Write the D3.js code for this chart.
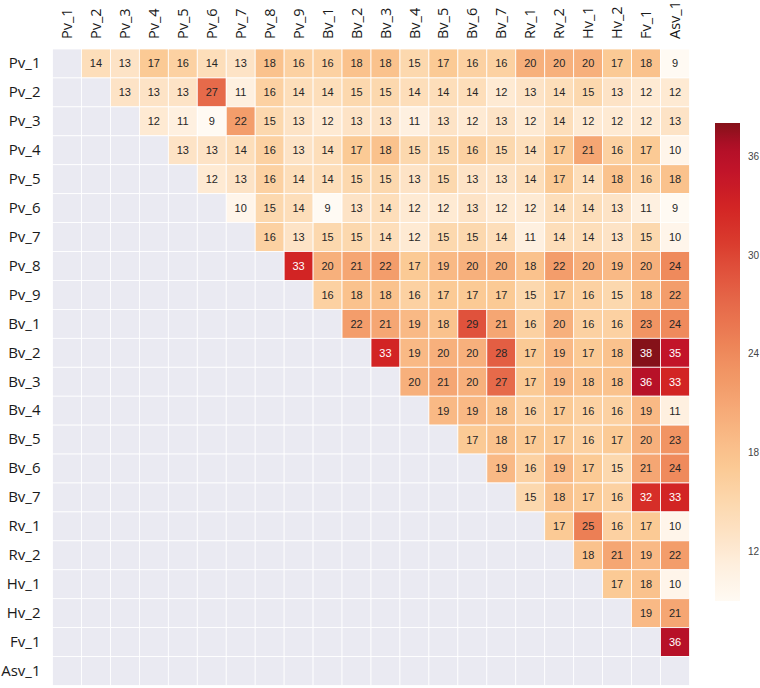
<!DOCTYPE html>
<html>
<head>
<meta charset="utf-8">
<script src="https://cdn.jsdelivr.net/npm/d3@7"></script>
<style>
  html, body { margin: 0; padding: 0; background: #fff; }
  svg { display: block; }
</style>
</head>
<body>
<svg id="chart" width="760" height="688"></svg>
<script>
// ---------------- DATA ----------------
const labels = ["Pv_1","Pv_2","Pv_3","Pv_4","Pv_5","Pv_6","Pv_7","Pv_8","Pv_9",
  "Bv_1","Bv_2","Bv_3","Bv_4","Bv_5","Bv_6","Bv_7","Rv_1","Rv_2","Hv_1","Hv_2","Fv_1","Asv_1"];

// Upper-triangle values of each row (columns to the right of the diagonal)
const row_Pv_1 = [14,13,17,16,14,13,18,16,16,18,18,15,17,16,16,20,20,20,17,18,9];
const row_Pv_2 = [13,13,13,27,11,16,14,14,15,15,14,14,14,12,13,14,15,13,12,12];
const row_Pv_3 = [12,11,9,22,15,13,12,13,13,11,13,12,13,12,14,12,12,12,13];
const row_Pv_4 = [13,13,14,16,13,14,17,18,15,15,16,15,14,17,21,16,17,10];
const row_Pv_5 = [12,13,16,14,14,15,15,13,15,13,13,14,17,14,18,16,18];
const row_Pv_6 = [10,15,14,9,13,14,12,12,13,12,12,14,14,13,11,9];
const row_Pv_7 = [16,13,15,15,14,12,15,15,14,11,14,14,13,15,10];
const row_Pv_8 = [33,20,21,22,17,19,20,20,18,22,20,19,20,24];
const row_Pv_9 = [16,18,18,16,17,17,17,15,17,16,15,18,22];
const row_Bv_1 = [22,21,19,18,29,21,16,20,16,16,23,24];
const row_Bv_2 = [33,19,20,20,28,17,19,17,18,38,35];
const row_Bv_3 = [20,21,20,27,17,19,18,18,36,33];
const row_Bv_4 = [19,19,18,16,17,16,16,19,11];
const row_Bv_5 = [17,18,17,17,16,17,20,23];
const row_Bv_6 = [19,16,19,17,15,21,24];
const row_Bv_7 = [15,18,17,16,32,33];
const row_Rv_1 = [17,25,16,17,10];
const row_Rv_2 = [18,21,19,22];
const row_Hv_1 = [17,18,10];
const row_Hv_2 = [19,21];
const row_Fv_1 = [36];
const row_Asv_1 = [];

const rowValues = [row_Pv_1,row_Pv_2,row_Pv_3,row_Pv_4,row_Pv_5,row_Pv_6,row_Pv_7,row_Pv_8,row_Pv_9,
  row_Bv_1,row_Bv_2,row_Bv_3,row_Bv_4,row_Bv_5,row_Bv_6,row_Bv_7,row_Rv_1,row_Rv_2,row_Hv_1,row_Hv_2,row_Fv_1,row_Asv_1];

const colorDomain = [9, 38];
const colorbarTicks = [12, 18, 24, 30, 36];

// ---------------- BUILD ----------------
const cells = [];
labels.forEach((rl, i) => {
  labels.forEach((cl, j) => {
    const v = j > i ? rowValues[i][j - i - 1] : null;
    cells.push({ row: rl, col: cl, value: v });
  });
});

const svg = d3.select("#chart");

const x = d3.scaleBand().domain(labels).range([52.5, 689.5]);
const y = d3.scaleBand().domain(labels).range([49, 685.5]);

const stopVals = [9, 11, 13, 15, 17, 19, 21, 23, 25, 27, 29, 31, 33, 35, 36.5, 38];
const stopCols = ["#fffaf3","#fef0e0","#fde3c6","#fcd8ae","#fbca95","#f9b985","#f5a673","#f19463",
  "#ec7f55","#e66a4a","#e0523c","#d9382c","#d22424","#c21429","#b20f28","#851119"];
const color = d3.scaleLinear().domain(stopVals).range(stopCols).interpolate(d3.interpolateRgb).clamp(true);

const whiteTextFrom = 30;

// cells
svg.append("g").selectAll("rect").data(cells).join("rect")
  .attr("x", d => x(d.col))
  .attr("y", d => y(d.row))
  .attr("width", x.bandwidth())
  .attr("height", y.bandwidth())
  .attr("fill", d => d.value == null ? "#eaeaf2" : color(d.value))
  .attr("stroke", "#ffffff")
  .attr("stroke-width", 0.8);

// annotations
svg.append("g").selectAll("text").data(cells.filter(d => d.value != null)).join("text")
  .attr("x", d => x(d.col) + x.bandwidth() / 2)
  .attr("y", d => y(d.row) + y.bandwidth() / 2)
  .attr("dy", "0.36em")
  .attr("text-anchor", "middle")
  .attr("font-family", "'Liberation Sans', Arial, sans-serif")
  .attr("font-size", "11px")
  .attr("fill", d => d.value >= whiteTextFrom ? "#ffffff" : "#262626")
  .text(d => d.value);

// row labels
const yAxis = d3.axisLeft(y).tickSize(0).tickPadding(12);
const gy = svg.append("g").attr("transform", "translate(52.5,0)").call(yAxis);
gy.select(".domain").remove();
gy.selectAll("text")
  .attr("font-family", "'Open Sans', 'Noto Sans', sans-serif")
  .attr("font-size", "15px")
  .attr("fill", "#1a1a1a");

// column labels (top, rotated)
const xAxis = d3.axisTop(x).tickSize(0).tickPadding(10);
const gx = svg.append("g").attr("transform", "translate(0,49)").call(xAxis);
gx.select(".domain").remove();
gx.selectAll("text")
  .attr("font-family", "'Open Sans', 'Noto Sans', sans-serif")
  .attr("font-size", "14.5px")
  .attr("fill", "#1a1a1a")
  .attr("text-anchor", "start")
  .attr("transform", "rotate(-90)")
  .attr("x", 10)
  .attr("y", 0)
  .attr("dy", "0.35em");

// colorbar
const cbX = 715, cbW = 25, cbTop = 123, cbBottom = 601;
const cbScale = d3.scaleLinear().domain(colorDomain).range([cbBottom, cbTop]);
const defs = svg.append("defs");
const grad = defs.append("linearGradient").attr("id", "cbgrad")
  .attr("x1", 0).attr("y1", 1).attr("x2", 0).attr("y2", 0);
d3.range(0, 1.0001, 0.02).forEach(t => {
  const v = colorDomain[0] + t * (colorDomain[1] - colorDomain[0]);
  grad.append("stop").attr("offset", t).attr("stop-color", color(v));
});
svg.append("rect")
  .attr("x", cbX).attr("y", cbTop)
  .attr("width", cbW).attr("height", cbBottom - cbTop)
  .attr("fill", "url(#cbgrad)");

const cbAxis = d3.axisRight(cbScale).tickValues(colorbarTicks).tickSize(0).tickPadding(8);
const gc = svg.append("g").attr("transform", `translate(${cbX + cbW},0)`).call(cbAxis);
gc.select(".domain").remove();
gc.selectAll("text")
  .attr("font-family", "'Liberation Sans', Arial, sans-serif")
  .attr("font-size", "10px")
  .attr("fill", "#444");
</script>
</body>
</html>
